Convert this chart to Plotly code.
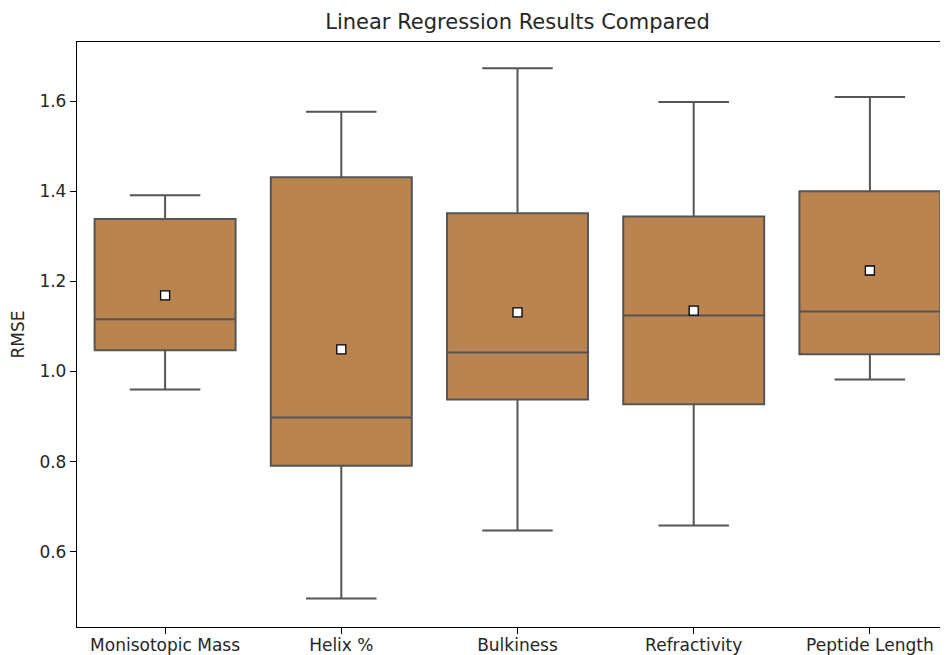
import plotly.graph_objects as go

categories = ["Monisotopic Mass", "Helix %", "Bulkiness", "Refractivity", "Peptide Length"]
lower_whisker = [0.960, 0.496, 0.647, 0.658, 0.982]
q1_values = [1.047, 0.791, 0.938, 0.927, 1.038]
median_values = [1.116, 0.898, 1.042, 1.124, 1.133]
q3_values = [1.338, 1.431, 1.351, 1.344, 1.400]
upper_whisker = [1.391, 1.576, 1.673, 1.598, 1.609]
mean_values = [1.169, 1.049, 1.131, 1.135, 1.224]

FONT = "DejaVu Sans"
TXT = "#262626"

fig = go.Figure()
fig.add_trace(go.Box(
    x=categories,
    q1=q1_values, median=median_values, q3=q3_values,
    lowerfence=lower_whisker, upperfence=upper_whisker,
    fillcolor="#b98450",
    line=dict(color="#555555", width=2),
    width=0.8,
    whiskerwidth=0.5,
    boxpoints=False,
    showlegend=False,
    hoverinfo="skip",
))
fig.add_trace(go.Scatter(
    x=categories, y=mean_values, mode="markers",
    marker=dict(symbol="square", size=9, color="white", line=dict(color="black", width=1.3)),
    showlegend=False,
))

tick_font = dict(family=FONT, size=17, color=TXT)
fig.update_layout(
    width=940, height=647,
    margin=dict(l=69, r=2, t=34, b=28),
    plot_bgcolor="white", paper_bgcolor="white",
    title=dict(text="Linear Regression Results Compared", x=509.5 / 940, xanchor="center",
               y=1 - 14 / 647, yanchor="middle",
               font=dict(family=FONT, size=21, color=TXT)),
    xaxis=dict(range=[-0.5, 4.5 - 12 / 176.25], showline=True, linecolor="black", linewidth=1.3,
               mirror=True, ticks="outside", ticklen=6, tickcolor="black", showgrid=False,
               zeroline=False, tickfont=tick_font, automargin=False, ticklabelstandoff=-4),
    yaxis=dict(range=[0.433, 1.731], tickvals=[0.6, 0.8, 1.0, 1.2, 1.4, 1.6],
               ticktext=["0.6", "0.8", "1.0", "1.2", "1.4", "1.6"],
               showline=True, linecolor="black", linewidth=1.3, mirror=False,
               ticks="outside", ticklen=6, tickcolor="black", showgrid=False, zeroline=False,
               tickfont=tick_font, automargin=False,
               title=dict(text="RMSE", font=dict(family=FONT, size=17, color=TXT), standoff=10)),
)
fig.write_html("out.html")
